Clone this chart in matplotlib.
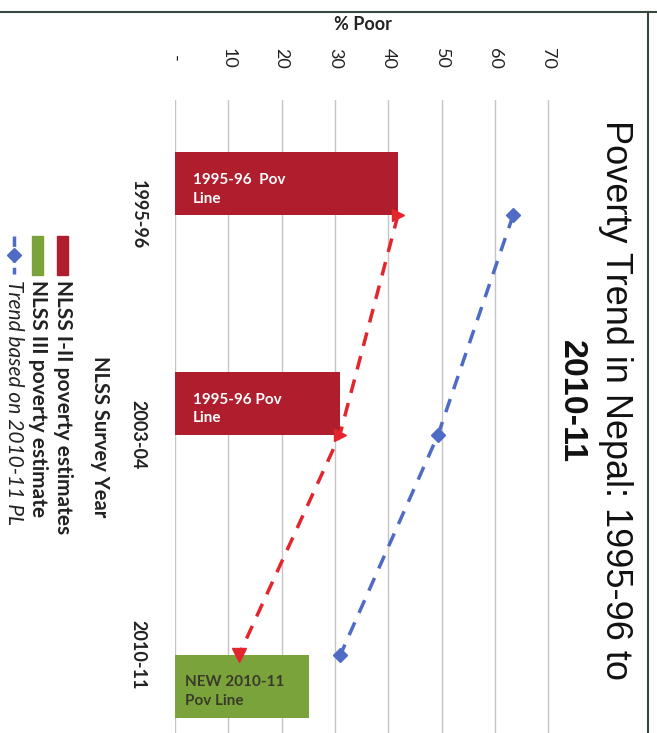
import matplotlib
matplotlib.use('Agg')
import matplotlib.pyplot as plt
from matplotlib.patches import Rectangle
from matplotlib.lines import Line2D

# ---------------- data ----------------
years = ['1995-96', '2003-04', '2010-11']
bar_values = [41.8, 30.9, 25.2]          # NLSS I-II (red) and NLSS III (green) estimates
bar_texts = ['1995-96  Pov\nLine', '1995-96 Pov\nLine', 'NEW 2010-11\nPov Line']
trend_old_pl = [41.8, 30.9, 12.0]        # red dashed (1995-96 poverty line)
trend_new_pl = [63.4, 49.3, 31.0]        # blue dashed (trend based on 2010-11 PL)
value_ticks = [0, 10, 20, 30, 40, 50, 60, 70]
value_tick_labels = ['-', '10', '20', '30', '40', '50', '60', '70']
legend_labels = ['NLSS I-II poverty estimates', 'NLSS III poverty estimate',
                 'Trend based on 2010-11 PL']
title_line1 = 'Poverty Trend in Nepal: 1995-96 to'
title_line2 = '2010-11'

# ---------------- style ----------------
W, H, DPI = 657, 733, 100
RED_BAR = '#B01E2D'
GREEN_BAR = '#7BA33B'
RED_LINE = '#E3262E'
BLUE_LINE = '#4F6BC5'
GRID = '#C4C4C4'
TXT = '#222222'
FONT = ['Lato', 'DejaVu Sans']
TFONT = ['Liberation Sans', 'DejaVu Sans']
plt.rcParams['font.family'] = FONT

fig = plt.figure(figsize=(W / DPI, H / DPI), dpi=DPI)
fig.patch.set_facecolor('white')


def fx(x):
    return x / W


def fy(y):
    return 1 - y / H


ax = fig.add_axes([fx(175), 0, 375 / W, 633 / H])
ax.set_xlim(0, 70.3)
ax.set_ylim(2.355, -0.523)
for s in ax.spines.values():
    s.set_visible(False)

ax.set_xticks(value_ticks)
ax.set_xticklabels(value_tick_labels)
ax.grid(axis='x', color=GRID, lw=1)
ax.set_axisbelow(True)
ax.tick_params(axis='x', top=True, bottom=False, labeltop=True, labelbottom=False,
               length=0, pad=30, labelrotation=-90, labelsize=13, labelcolor=TXT)
for lab in ax.get_xticklabels():
    lab.set_va('center')
    lab.set_ha('center')

ypos = list(range(len(years)))
ax.set_yticks(ypos)
ax.set_yticklabels(years)
ax.tick_params(axis='y', length=0, pad=26.5, labelrotation=-90, labelsize=13, labelcolor=TXT)
for lab in ax.get_yticklabels():
    lab.set_va('center')
    lab.set_ha('center')
    lab.set_fontweight('bold')

# axis titles
ax.text(0.5, 1 + 75 / 633, '% Poor', transform=ax.transAxes, ha='center', va='center',
        fontsize=13, fontweight='bold', color=TXT)
ax.text((100 - 175) / 375, (733 - 437) / 633, 'NLSS Survey Year', transform=ax.transAxes,
        rotation=-90, ha='center', va='center', fontsize=14.5, fontweight='bold', color=TXT)

# bars (shapes sitting on the trend markers)
bh = 0.286
side = [-1, -1, 1]
bar_colors = [RED_BAR, RED_BAR, GREEN_BAR]
text_colors = ['white', 'white', '#3A3A2A']
text_x = [3.4, 3.4, 1.9]
for i, v in enumerate(bar_values):
    yc = ypos[i] + side[i] * bh / 2
    ax.barh(yc, v, height=bh, color=bar_colors[i], zorder=2)
    ax.text(text_x[i], yc + 0.025, bar_texts[i], ha='left', va='center', fontsize=11,
            fontweight='bold', color=text_colors[i], linespacing=1.45, zorder=3)

# trend lines
ax.plot(trend_new_pl, ypos, color=BLUE_LINE, lw=2.5, dashes=(4, 3), marker='D', ms=7,
        zorder=4)
ax.plot(trend_old_pl, ypos, color=RED_LINE, lw=2.5, dashes=(4, 3), zorder=4)
ax.plot(trend_old_pl[:2], ypos[:2], ls='none', marker='>', ms=9, color=RED_LINE, zorder=5)
ax.plot(trend_old_pl[2:], ypos[2:], ls='none', marker='v', ms=10, color=RED_LINE, zorder=5)

# manual legend (rotated)
fig.patches.append(Rectangle((fx(57), fy(275)), 11 / W, 39 / H, transform=fig.transFigure,
                             color=RED_BAR))
fig.patches.append(Rectangle((fx(32), fy(275)), 11 / W, 39 / H, transform=fig.transFigure,
                             color=GREEN_BAR))
fig.lines.append(Line2D([fx(14), fx(14)], [fy(236), fy(274)], transform=fig.transFigure,
                        color=BLUE_LINE, lw=2.5, dashes=(3, 1.5)))
fig.lines.append(Line2D([fx(14)], [fy(255)], transform=fig.transFigure, color=BLUE_LINE,
                        marker='D', ms=7, ls='none'))
leg_x = [63, 38, 14]
leg_style = ['normal', 'normal', 'italic']
leg_weight = ['bold', 'bold', 'normal']
for i, lab in enumerate(legend_labels):
    fig.text(fx(leg_x[i]), fy(280), lab, rotation=-90, ha='center', va='top', fontsize=15,
             fontweight=leg_weight[i], fontstyle=leg_style[i], color=TXT)

# title
fig.text(fx(615), fy(400), title_line1, rotation=-90, ha='center', va='center',
         fontsize=26, family=TFONT, color='#111111')
fig.text(fx(571), fy(402), title_line2, rotation=-90, ha='center', va='center',
         fontsize=24.5, fontweight='bold', family=TFONT, color='#111111')

# frame lines of the scanned slide
fig.lines.append(Line2D([0, 1], [fy(12), fy(12)], transform=fig.transFigure,
                        color='#35483D', lw=1.5))
fig.lines.append(Line2D([fx(648), fx(648)], [0, fy(12)], transform=fig.transFigure,
                        color='#35483D', lw=1.5))

fig.savefig('out.png', dpi=DPI, facecolor='white')
